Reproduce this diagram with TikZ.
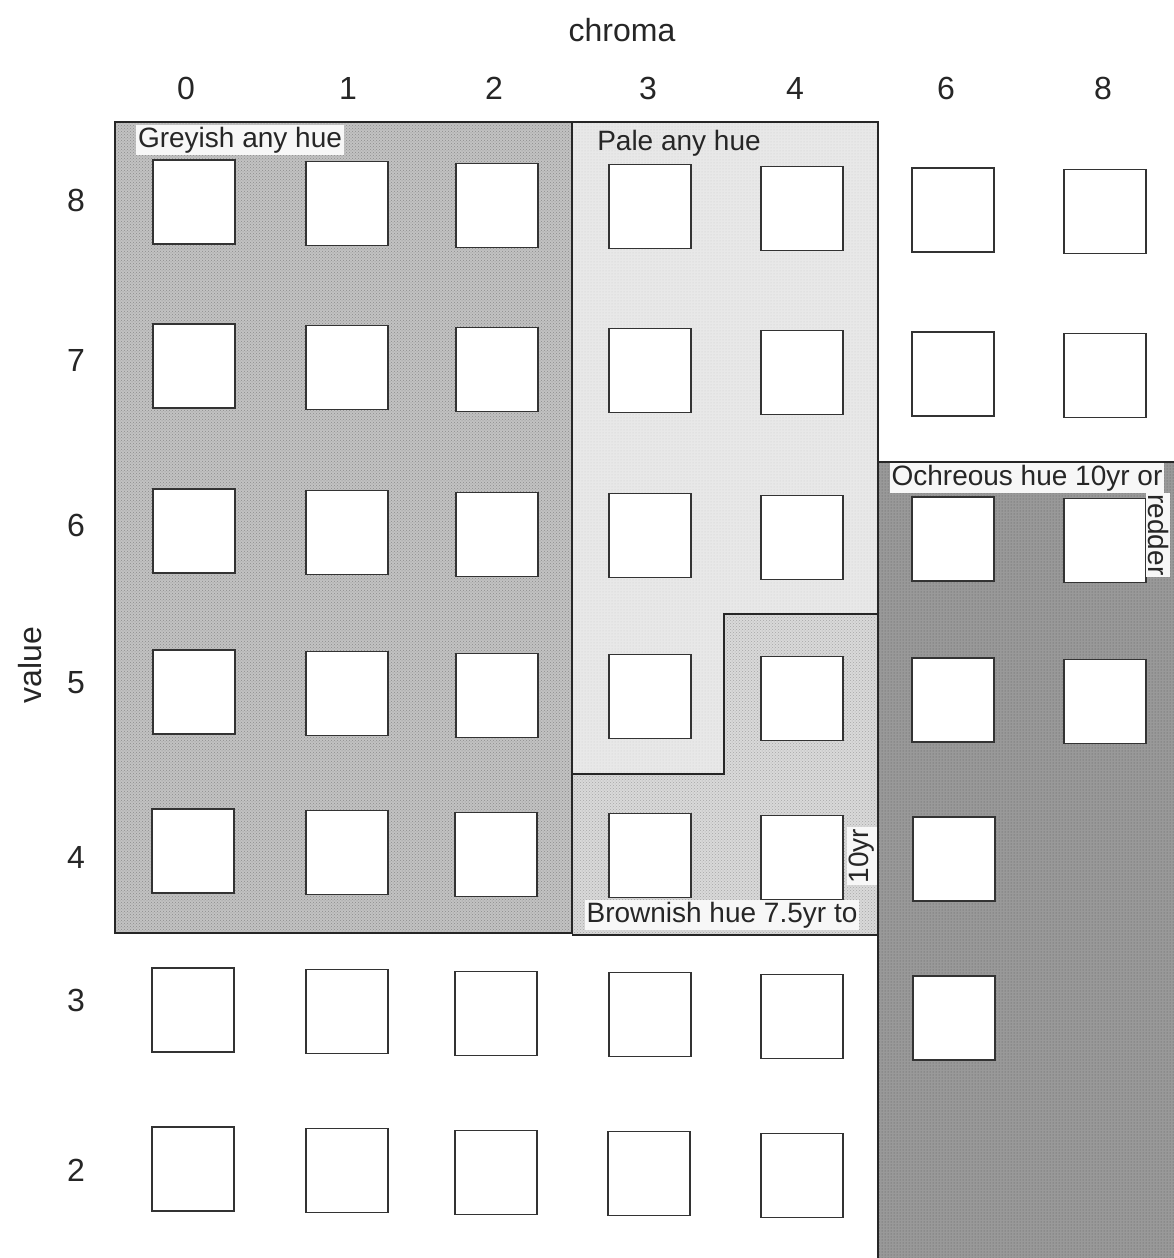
\documentclass[tikz,border=0pt]{standalone}
\usepackage{fontspec}
\setmainfont{Liberation Sans}
\usetikzlibrary{patterns}
\definecolor{greyish}{gray}{0.76}
\definecolor{pale}{gray}{0.91}
\definecolor{brownish}{gray}{0.85}
\definecolor{ochre}{gray}{0.60}
\definecolor{labelbg}{gray}{0.97}
\tikzset{
  sq/.style={draw=black!80, fill=white, minimum width=82pt, minimum height=84pt, inner sep=0pt, line width=1.2pt},
  region/.style={draw=black!85, line width=1.5pt},
  axislabel/.style={font=\fontsize{32}{36}\selectfont, text=black!85},
  tag/.style={font=\fontsize{28}{31}\selectfont, text=black!85, inner sep=2pt, fill=labelbg},
  plaintag/.style={font=\fontsize{28}{31}\selectfont, text=black!85, inner sep=2pt}
}
\begin{document}
\begin{tikzpicture}[x=1pt, y=-1pt]
\useasboundingbox (0,0) rectangle (1174,1258);
\fill[white] (0,0) rectangle (1174,1258);
% regions
\fill[greyish] (115,122) rectangle (572,933);
\fill[pattern=crosshatch dots, pattern color=black!45] (115,122) rectangle (572,933);
\fill[pale] (572,122) -- (878,122) -- (878,614) -- (724,614) -- (724,774) -- (572,774) -- cycle;
\fill[pattern=dots, pattern color=black!20] (572,122) -- (878,122) -- (878,614) -- (724,614) -- (724,774) -- (572,774) -- cycle;
\fill[brownish] (572,774) -- (724,774) -- (724,614) -- (878,614) -- (878,935) -- (572,935) -- cycle;
\fill[pattern=crosshatch dots, pattern color=black!35] (572,774) -- (724,774) -- (724,614) -- (878,614) -- (878,935) -- (572,935) -- cycle;
\fill[ochre] (878,462) rectangle (1174,1258);
\fill[pattern=dots, pattern color=black!65] (878,462) rectangle (1174,1258);
\draw[region] (115,122) rectangle (572,933);
\draw[region] (572,122) -- (878,122) -- (878,614) -- (724,614) -- (724,774) -- (572,774);
\draw[region] (724,614) -- (878,614) -- (878,935) -- (572,935);
\draw[region] (878,1258) -- (878,462) -- (1174,462);
% squares
\foreach \r/\ry in {8/202,7/366,6/531,5/692}
  \foreach \c/\cx/\ci in {0/194/0,1/347/1,2/497/2,3/650/3,4/802/4,6/953/5,8/1105/6}
    \node[sq] (s\r-\c) at (\cx,\ry+1.6*\ci) {};
\foreach \r/\ry in {4/851,3/1010}
  \foreach \c/\cx/\ci in {0/193/0,1/347/1,2/496/2,3/650/3,4/802/4,6/954/5}
    \node[sq] (s\r-\c) at (\cx,\ry+1.6*\ci) {};
\foreach \r/\ry in {2/1169}
  \foreach \c/\cx/\ci in {0/193/0,1/347/1,2/496/2,3/649/3,4/802/4}
    \node[sq] (s\r-\c) at (\cx,\ry+1.6*\ci) {};
% axis labels
\node[axislabel] (chroma) at (622,30) {chroma};
\foreach \c/\cx in {0/186,1/348,2/494,3/648,4/795,6/946,8/1103}
  \node[axislabel] (c\c) at (\cx,88) {\c};
\foreach \r/\ry in {8/200,7/360,6/525,5/683,4/857,3/1000,2/1170}
  \node[axislabel] (r\r) at (76,\ry) {\r};
\node[axislabel, rotate=90] (value) at (30,665) {value};
% region labels
\node[tag] (greyish) at (240,140) {Greyish any hue};
\node[plaintag] (pale) at (679,143) {Pale any hue};
\node[tag] (ochreous) at (1027,478) {Ochreous hue 10yr or};
\node[tag, rotate=-90] (redder) at (1158,535) {redder};
\node[tag] (brownish) at (722,915) {Brownish hue 7.5yr to};
\node[tag, rotate=90] (tenyr) at (862,856) {10yr};
\end{tikzpicture}
\end{document}
